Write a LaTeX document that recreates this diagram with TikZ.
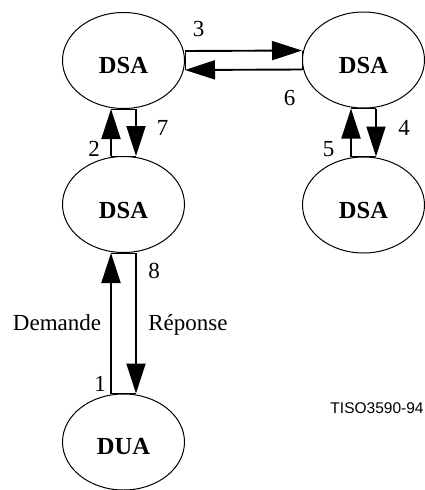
\documentclass[tikz,border=0pt]{standalone}
\usepackage{fontspec}
\setmainfont{Liberation Serif}
\newfontfamily\arialfont{Liberation Sans}
\usetikzlibrary{arrows.meta,shapes.geometric}
\begin{document}
\begin{tikzpicture}[x=1pt,y=-1pt,
  agent/.style={draw,line width=1pt,ellipse,minimum width=122pt,minimum height=96pt,inner sep=0pt},
  agname/.style={anchor=base,font=\fontsize{24.5}{28}\selectfont\bfseries,inner sep=0pt},
  num/.style={anchor=base,font=\fontsize{23}{27}\selectfont,inner sep=0pt},
  arr/.style={line width=1.9pt,-{Triangle[length=30pt,width=19pt]}},
  tie/.style={line width=1pt}]
\useasboundingbox (0,0) rectangle (425,490);
\node[agent] (A) at (123.5,60.5) {};
\node[agent] (B) at (363.5,60) {};
\node[agent] (C) at (123.5,204.5) {};
\node[agent] (D) at (363.5,205) {};
\node[agent] (E) at (123.5,442) {};
\node[agname] (tA) at (123.5,73.5) {DSA};
\node[agname] (tB) at (363.5,73) {DSA};
\node[agname] (tC) at (123.5,218) {DSA};
\node[agname] (tD) at (363.5,218.5) {DSA};
\node[agname] (tE) at (123.5,454.5) {DUA};
% horizontal pair
\draw[tie] ([yshift=9.5pt]A.east) -- ([yshift=-9.5pt]A.east);
\draw[tie] ([yshift=9.5pt]B.west) -- ([yshift=-9.5pt]B.west);
\draw[arr] ([yshift=9.5pt]A.east) -- ([yshift=9.5pt]B.west);
\draw[arr] ([yshift=-9.5pt]B.west) -- ([yshift=-9.5pt]A.east);
% left upper pair
\draw[tie] ([xshift=-12.5pt]A.south) -- ([xshift=12.5pt]A.south);
\draw[tie] ([xshift=-12.5pt]C.north) -- ([xshift=12.5pt]C.north);
\draw[arr] ([xshift=-12.5pt]C.north) -- ([xshift=-12.5pt]A.south);
\draw[arr] ([xshift=12.5pt]A.south) -- ([xshift=12.5pt]C.north);
% right pair
\draw[tie] ([xshift=-12.5pt]B.south) -- ([xshift=12.5pt]B.south);
\draw[tie] ([xshift=-12.5pt]D.north) -- ([xshift=12.5pt]D.north);
\draw[arr] ([xshift=-12.5pt]D.north) -- ([xshift=-12.5pt]B.south);
\draw[arr] ([xshift=12.5pt]B.south) -- ([xshift=12.5pt]D.north);
% lower pair
\draw[tie] ([xshift=-12.5pt]C.south) -- ([xshift=12.5pt]C.south);
\draw[tie] ([xshift=-12.5pt]E.north) -- ([xshift=12.5pt]E.north);
\draw[arr] ([xshift=-12.5pt]E.north) -- ([xshift=-12.5pt]C.south);
\draw[arr] ([xshift=12.5pt]C.south) -- ([xshift=12.5pt]E.north);
% labels
\node[num] (n3) at (198.5,36.7) {3};
\node[num] (n6) at (289.5,105) {6};
\node[num] (n2) at (94,156.7) {2};
\node[num] (n7) at (162.5,135) {7};
\node[num] (n5) at (328.5,156.7) {5};
\node[num] (n4) at (404,135) {4};
\node[num] (n8) at (154,278.3) {8};
\node[num] (n1) at (100,391.7) {1};
\node[num] (dem) at (57,330.7) {Demande};
\node[num] (rep) at (188,330.7) {Réponse};
\node[anchor=base,inner sep=0pt,font=\arialfont\fontsize{15.5}{18}\selectfont] (tiso) at (377,413.3) {TISO3590-94};
\end{tikzpicture}
\end{document}
